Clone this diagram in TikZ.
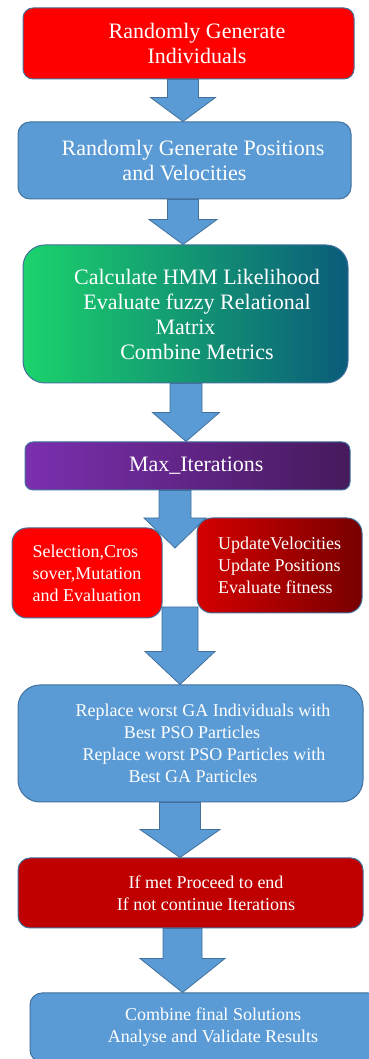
\documentclass[tikz,border=0pt]{standalone}
\usepackage{fontspec}
\setmainfont{Liberation Serif}
\usepackage{xcolor}
\usetikzlibrary{
calc,
backgrounds,
positioning
}

\definecolor{flowblue}{HTML}{5B9BD5}
\definecolor{flowedge}{HTML}{41719C}
\definecolor{flowred}{HTML}{FF0000}
\definecolor{darkred}{HTML}{C00000}
\definecolor{greenleft}{HTML}{1BD36C}
\definecolor{tealright}{HTML}{0B5C7A}
\definecolor{purpleleft}{HTML}{7B2FAF}
\definecolor{purpleright}{HTML}{461A5C}
\definecolor{redleft}{HTML}{D40000}
\definecolor{redright}{HTML}{780000}

\newcommand{\bigtext}{\fontsize{22}{25}\selectfont}
\newcommand{\smalltext}{\fontsize{18}{22}\selectfont}

\newcommand{\blockarrow}[6]{%
\path[flowarrow] let \p1=(#2), \p2=(#3) in
({#1pt-#4pt/2},\y1) -- ({#1pt+#4pt/2},\y1) -- ({#1pt+#4pt/2},{\y2+#6pt})
-- ({#1pt+#5pt/2},{\y2+#6pt}) -- (#1pt,\y2) -- ({#1pt-#5pt/2},{\y2+#6pt})
-- ({#1pt-#4pt/2},{\y2+#6pt}) -- cycle;}

\begin{document}
\begin{tikzpicture}[
x=1pt,y=1pt,
box/.style={
draw=flowedge,
line width=1pt,
rounded corners=10pt,
inner sep=0pt,
text=white,
align=center,
font=\bigtext
},
smallbox/.style={
box,
font=\smalltext
},
flowarrow/.style={
fill=flowblue,
draw=flowedge,
line width=0.8pt
}
]

\useasboundingbox (0,0) rectangle (368,1059);

\node[box,fill=flowred,minimum width=331pt,minimum height=71pt] (gen) at (188.5,1015.5) {
\hspace*{17pt}Randomly Generate\\
\hspace*{17pt}Individuals
};

\node[box,fill=flowblue,rounded corners=12pt,minimum width=333pt,minimum height=77pt] (pos) at (184.5,898.5) {
\hspace*{17pt}Randomly Generate Positions\\
and Velocities
};

\node[box,left color=greenleft,right color=tealright,rounded corners=22pt,minimum width=325pt,minimum height=138pt] (fitn) at (185.5,745) {
\hspace*{23pt}Calculate HMM Likelihood\\
\hspace*{23pt}Evaluate fuzzy Relational\\
Matrix\\
\hspace*{23pt}Combine Metrics
};

\node[box,left color=purpleleft,right color=purpleright,rounded corners=8pt,minimum width=325pt,minimum height=48pt] (maxit) at (187.5,593) {
\hspace*{23pt}Max\_Iterations
};

\node[smallbox,fill=flowred,align=left,rounded corners=15pt,minimum width=150pt,minimum height=90pt] (ga) at (87,486) {
Selection,Cros\\
sover,Mutation\\
and Evaluation
};

\node[smallbox,left color=redleft,right color=redright,align=left,rounded corners=15pt,minimum width=165pt,minimum height=95pt] (pso) at (279.5,493.5) {
UpdateVelocities\\
Update Positions\\
Evaluate fitness
};

\node[smallbox,fill=flowblue,rounded corners=22pt,minimum width=345pt,minimum height=117pt] (repl) at (190.5,315.5) {
\hspace*{25pt}Replace worst GA Individuals with\\
\hspace*{3pt}Best PSO Particles\\
\hspace*{27pt}Replace worst PSO Particles with\\
\hspace*{5pt}Best GA Particles
};

\node[smallbox,fill=darkred,rounded corners=12pt,minimum width=345pt,minimum height=70pt] (check) at (190.5,166) {
\hspace*{31pt}If met Proceed to end\\
\hspace*{31pt}If not continue Iterations
};

\node[smallbox,fill=flowblue,rounded corners=12pt,minimum width=350pt,minimum height=69pt] (final) at (205,31.5) {
\hspace*{16pt}Combine final Solutions\\
\hspace*{16pt}Analyse and Validate Results
};

\coordinate (split) at (175,511);
\coordinate (merge) at (180,452);

\begin{scope}[on background layer]
\fill[white] (0,0) rectangle (368,1059);
\blockarrow{183}{gen.south}{pos.north}{31}{65}{24}
\blockarrow{183}{pos.south}{fitn.north}{31}{68}{25}
\blockarrow{186}{fitn.south}{maxit.north}{32}{67}{29}
\blockarrow{175}{maxit.south}{split}{32}{62}{30}
\blockarrow{180}{merge}{repl.north}{36}{70}{33}
\blockarrow{180}{repl.south}{check.north}{41}{80}{28}
\blockarrow{182.5}{check.south}{final.north}{39}{85}{34}
\end{scope}

\end{tikzpicture}
\end{document}
